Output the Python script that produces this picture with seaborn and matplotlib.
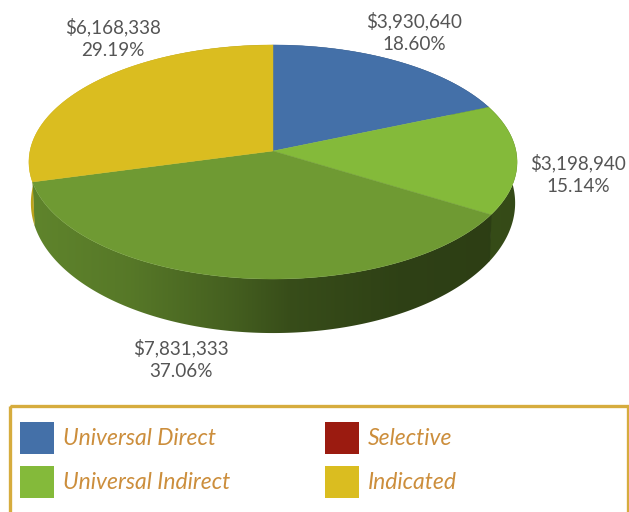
import numpy as np
import seaborn as sns
import matplotlib.pyplot as plt
from matplotlib.patches import Patch, Rectangle, Polygon

# slices, clockwise from 12 o'clock
amounts = [3930640, 3198940, 7831333, 6168338]
slice_colors = ['#4470A8', '#84BA3A', '#6F9A33', '#DABD20']

legend_names = ['Universal Direct', 'Universal Indirect', 'Selective', 'Indicated']
legend_colors = ['#4470A8', '#84BA3A', '#9B1B10', '#DABD20']

label_pos = [(414, 32), (578, 174), (181, 359), (113, 38)]

# pie geometry in pixels
cx, cy = 273, 151
rx, ry = 243, 116
persp = 0.094

# side lighting, dark towards the right
shade_x = [30, 130, 230, 290, 400, 520]
shade_f = [0.86, 0.78, 0.62, 0.50, 0.42, 0.40]


def project(theta):
    u, v = np.cos(theta), np.sin(theta)
    s = 1 / (1 + persp * v)
    return cx + rx * u * s, cy - ry * v * s


def lower_rim(xs, ys):
    # bottom edge of the wall, perspective makes it a little narrower
    return cx + 0.992 * (xs - cx), cy + 39.8 + 1.111 * (ys - cy)


sns.set_theme(style="white")
plt.rcParams['font.family'] = ['Lato', 'DejaVu Sans']

fig = plt.figure(figsize=(6.29, 5.12), dpi=100)
ax = fig.add_axes([0, 0, 1, 1])
ax.axis('off')

shares = np.array(amounts) / sum(amounts)
edges = np.pi / 2 - 2 * np.pi * np.concatenate([[0], np.cumsum(shares)])

# side wall first, the top faces cover whatever is at the back
grad_x = np.arange(0, 630)
shade = np.interp(grad_x, shade_x, shade_f)
for i, col in enumerate(slice_colors):
    base = np.array(sns.color_palette([col])[0])
    # small overlap so no light seam shows between walls
    th = np.linspace(edges[i] + 0.006, edges[i + 1], 300)
    xs, ys = project(th)
    bx, by = lower_rim(xs, ys)
    outline = np.column_stack([np.r_[xs, bx[::-1]], np.r_[ys, by[::-1]]])
    wall = Polygon(outline, closed=True, transform=ax.transData, fc='none', ec='none')
    ax.add_patch(wall)
    img = ax.imshow((shade[None, :, None] * base[None, None, :]).clip(0, 1),
                    extent=(0, 630, 512, 0), aspect='auto', zorder=2 + i * 0.1,
                    interpolation='bilinear')
    img.set_clip_path(wall)

ax.set_xlim(0, 629)
ax.set_ylim(512, 0)

# top faces
for i, col in enumerate(slice_colors):
    th = np.linspace(edges[i], edges[i + 1], 200)
    xs, ys = project(th)
    ax.fill(np.r_[cx, xs], np.r_[cy, ys], color=col, lw=0.3, zorder=3)

for i, (x, y) in enumerate(label_pos):
    ax.text(x, y, '${:,}\n{:.2f}%'.format(amounts[i], shares[i] * 100),
            ha='center', va='center', fontsize=13.6, color='#555555',
            linespacing=1.39, zorder=5)

# legend box runs off the bottom of the picture
ax.add_patch(Rectangle((9.5, 405.5), 618, 120, fill=False,
                       edgecolor='#D6AC3E', lw=2.4, zorder=4))
handles = [Patch(facecolor=c, edgecolor='none') for c in legend_colors]
fs = 16.5
px = fs * 100 / 72
ax.legend(handles, legend_names, ncol=2, frameon=False,
          loc='upper left', bbox_to_anchor=(20, 422),
          bbox_transform=ax.transData, borderpad=0, borderaxespad=0,
          handlelength=34 / px, handleheight=1.771, handletextpad=9 / px,
          labelspacing=12 / px, columnspacing=95 / px,
          labelcolor='#CC8E3C', prop={'style': 'italic', 'size': fs})

fig.savefig('out.png', dpi=100)
